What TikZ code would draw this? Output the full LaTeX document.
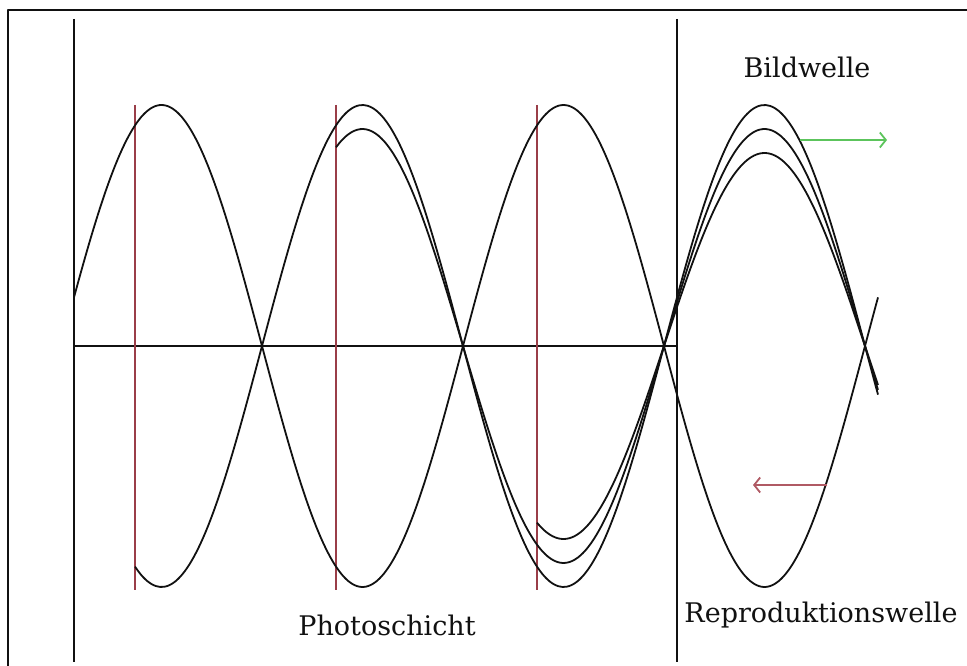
\documentclass[tikz,border=0pt]{standalone}
\usepackage{fontspec}
\newfontfamily\lwFace{DejaVu Serif}
\usetikzlibrary{arrows.meta}
\definecolor{lwInk}{HTML}{111111}
\definecolor{lwLayer}{HTML}{9A3E48}
\definecolor{lwGreen}{HTML}{5CC45C}
\definecolor{lwRose}{HTML}{B05A64}
\newcommand{\LWType}{\lwFace\fontsize{27}{31}\selectfont}
\tikzset{lw/base/.style={x=1pt,y=1pt,line cap=butt,line join=round,
  every node/.style={font=\LWType,inner sep=0pt,text=lwInk}},
  lw/frame/.style={draw=lwInk,line width=2.4pt},
  lw/rule/.style={draw=lwInk,line width=1.8pt},
  lw/wave/.style={draw=lwInk,line width=1.8pt},
  lw/layer/.style={draw=lwLayer,line width=1.8pt},
  lw/arrow/.style={-{Straight Barb[length=6pt,width=15pt]},line width=1.8pt}}
% amplitude (sign gives the phase), first x, last x; half period 201
\newcommand{\LWWave}[3]{%
  \draw[lw/wave] plot[domain=#2:#3,samples=180,smooth]
    (\x,{346+#1*sin(0.89552*(\x-262))});}

\begin{document}
\begin{tikzpicture}[lw/base,y=-1pt]
  \useasboundingbox (0,0) rectangle (967,666);
  \draw[lw/frame] (8,666)--(8,10)--(967,10);
  % the photographic layer and its axis
  \draw[lw/rule] (74,19)--(74,662);
  \draw[lw/rule] (677,19)--(677,662);
  \draw[lw/rule] (74,346)--(677,346);
  \foreach \x in {135,336,537}
    \draw[lw/layer] (\x,105)--(\x,590);
  % incident wave and the reflected partial waves
  \LWWave{241}{74}{878}
  \foreach \amp/\start in {-241/135,-217/336,-193/537}
    \LWWave{\amp}{\start}{878}
  \coordinate (bildTail) at (800,140);
  \coordinate (bildHead) at (887,140);
  \draw[lw/arrow,draw=lwGreen] (bildTail)--(bildHead);
  \coordinate (reproTail) at (827,485);
  \coordinate (reproHead) at (753,485);
  \draw[lw/arrow,draw=lwRose] (reproTail)--(reproHead);
  \node[anchor=base] (bild) at (807,78) {Bildwelle};
  \node[anchor=base] (photo) at (387,635) {Photoschicht};
  \node[anchor=base] (repro) at (821,622) {Reproduktionswelle};
\end{tikzpicture}
\end{document}
